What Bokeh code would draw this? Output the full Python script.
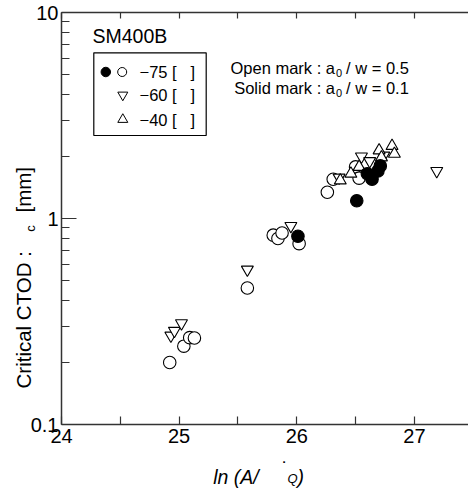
import math
from bokeh.plotting import figure
from bokeh.models import FixedTicker, LinearAxis, Label, BoxAnnotation
from bokeh.embed import file_html
from bokeh.resources import INLINE

# ---------------- data ----------------
# -75 C, open mark (a0/w = 0.5)
open75_x = [24.92, 25.04, 25.09, 25.13, 25.58, 25.80, 25.84, 25.875, 26.02, 26.26, 26.31, 26.50, 26.53]
open75_y = [0.20, 0.24, 0.264, 0.263, 0.46, 0.83, 0.80, 0.85, 0.755, 1.34, 1.55, 1.78, 1.57]
# -75 C, solid mark (a0/w = 0.1)
solid75_x = [26.01, 26.51, 26.60, 26.64, 26.69, 26.71]
solid75_y = [0.82, 1.22, 1.65, 1.55, 1.70, 1.80]
# -60 C
m60_x = [24.93, 24.96, 25.02, 25.58, 25.95, 26.36, 26.55, 26.62, 26.74, 27.19]
m60_y = [0.27, 0.285, 0.31, 0.565, 0.92, 1.58, 2.00, 1.90, 2.02, 1.70]
# -40 C
m40_x = [26.37, 26.46, 26.53, 26.70, 26.72, 26.81, 26.83]
m40_y = [1.53, 1.65, 1.78, 2.14, 1.98, 2.25, 2.06]

x_ticks = [24, 25, 26, 27]
x_minor = [24.5, 25.5, 26.5]
y_ticks = [0.1, 1, 10]
y_tick_labels = ["0.1", "1", "10"]
y_minor = [0.2, 0.3, 0.4, 0.5, 0.6, 0.7, 0.8, 0.9, 2, 3, 4, 5, 6, 7, 8, 9]

NB = "\u00a0"
legend_labels = ["\u221275 [" + NB * 3 + "]", "\u221260 [" + NB * 3 + "]", "\u221240 [" + NB * 3 + "]"]
title_text = "SM400B"

# ---------------- layout ----------------
W, H = 468, 490
X0, X1 = 24, 27.46          # axis extent (data)
Y0, Y1 = 0.1, 10
FX0, FX1 = 61, 468          # axis box left/right in page px
FY0, FY1 = 12, 424          # axis box top/bottom in page px
FONT = "Liberation Sans"


def dx(sx):
    return X0 + (sx - FX0) / (FX1 - FX0) * (X1 - X0)


def dy(sy):
    return 10 ** (math.log10(Y0) + (FY1 - sy) / (FY1 - FY0) * (math.log10(Y1) - math.log10(Y0)))


p = figure(width=W, height=H, y_axis_type="log",
           x_range=(dx(0), dx(W)), y_range=(dy(H), dy(0)),
           output_backend="svg", toolbar_location=None,
           min_border_left=0, min_border_right=0,
           min_border_top=0, min_border_bottom=0)
p.grid.visible = False
p.outline_line_color = None
p.background_fill_color = "white"
p.border_fill_color = "white"

AX = "#333333"


def style_axis(a, tick_in, minor_in):
    a.axis_line_color = AX
    a.axis_line_width = 1.5
    a.major_tick_line_color = AX
    a.minor_tick_line_color = AX
    a.major_tick_line_width = 1.2
    a.minor_tick_line_width = 1.2
    a.major_tick_in = tick_in
    a.major_tick_out = 0
    a.minor_tick_in = minor_in
    a.minor_tick_out = 0
    a.major_label_text_font = FONT
    a.major_label_text_font_size = "20px"
    a.major_label_text_color = "black"


xa = p.xaxis[0]
xa.ticker = FixedTicker(ticks=x_ticks, minor_ticks=x_minor)
xa.fixed_location = Y0
xa.bounds = (X0, X1)
style_axis(xa, 8, 8)
xa.major_label_standoff = 4

ya = p.yaxis[0]
ya.ticker = FixedTicker(ticks=y_ticks, minor_ticks=y_minor)
ya.major_label_overrides = {t: s for t, s in zip(y_ticks, y_tick_labels)}
ya.fixed_location = X0
ya.bounds = (Y0, Y1)
style_axis(ya, 15, 8)
ya.major_label_standoff = 3

top = LinearAxis(ticker=FixedTicker(ticks=[], minor_ticks=sorted(x_ticks + x_minor)))
style_axis(top, 6, 6)
top.fixed_location = Y1
top.bounds = (X0, X1)
top.major_label_text_font_size = "0px"
top.major_label_standoff = 0
p.add_layout(top, "above")

# ---------------- data marks ----------------
p.scatter(open75_x, open75_y, marker="circle", size=12.5, fill_color="white",
          line_color="black", line_width=1.1)
p.scatter(m60_x, m60_y, marker="inverted_triangle", size=12, fill_color="white",
          line_color="black", line_width=1.1)
p.scatter(m40_x, m40_y, marker="triangle", size=12, fill_color="white",
          line_color="black", line_width=1.1)
p.scatter(solid75_x, solid75_y, marker="circle", size=12.5, fill_color="black",
          line_color="black", line_width=1.1)

# ---------------- legend box ----------------
p.add_layout(BoxAnnotation(left=dx(93.3), right=dx(205.7), top=dy(52.3), bottom=dy(135),
                           fill_color=None, fill_alpha=0, line_color="black",
                           line_alpha=1.0, line_width=1.2))
row_y = [71.5, 94.5, 119]
p.scatter([dx(105.3)], [dy(row_y[0])], marker="circle", size=9.5, fill_color="black",
          line_color="black")
p.scatter([dx(121.7)], [dy(row_y[0])], marker="circle", size=9, fill_color="white",
          line_color="black", line_width=1)
p.scatter([dx(122.3)], [dy(row_y[1])], marker="inverted_triangle", size=10, fill_color="white",
          line_color="black", line_width=1)
p.scatter([dx(122.3)], [dy(row_y[2])], marker="triangle", size=10, fill_color="white",
          line_color="black", line_width=1)


def lbl(sx, sy, text, size, align="left", baseline="middle", style="normal", angle=0):
    p.add_layout(Label(x=dx(sx), y=dy(sy), text=text, text_font=FONT, text_font_size=size,
                       text_align=align, text_baseline=baseline, text_font_style=style,
                       angle=angle, text_color="black"))


for lab, ry in zip(legend_labels, row_y):
    lbl(139, ry, lab, "16.5px")

lbl(92, 35, title_text, "19.5px")

# annotation: Open mark / Solid mark
lbl(334.5, 67.5, "Open mark : a", "16.5px", align="right")
lbl(335.5, 72.5, "0", "11px")
lbl(345.5, 67.5, "/ w = 0.5", "16.5px")
lbl(334.5, 87.5, "Solid mark : a", "16.5px", align="right")
lbl(335.5, 92.5, "0", "11px")
lbl(345.5, 87.5, "/ w = 0.1", "16.5px")

# x axis title
lbl(212.7, 476.7, "ln (A/", "19.5px", baseline="alphabetic", style="italic")
lbl(284.5, 468, "\u02d9", "19.5px", align="center", baseline="alphabetic")
lbl(287, 478, "Q", "13px", baseline="alphabetic", style="italic")
lbl(297, 476.7, ")", "19.5px", baseline="alphabetic", style="italic")

# y axis title (rotated)
lbl(23, 388, "Critical CTOD :", "20.5px", angle=math.pi / 2)
lbl(30, 228, "c", "13px", align="center", angle=math.pi / 2)
lbl(23, 212, "[mm]", "20.5px", angle=math.pi / 2)

open("out.html", "w").write(file_html(p, INLINE))
